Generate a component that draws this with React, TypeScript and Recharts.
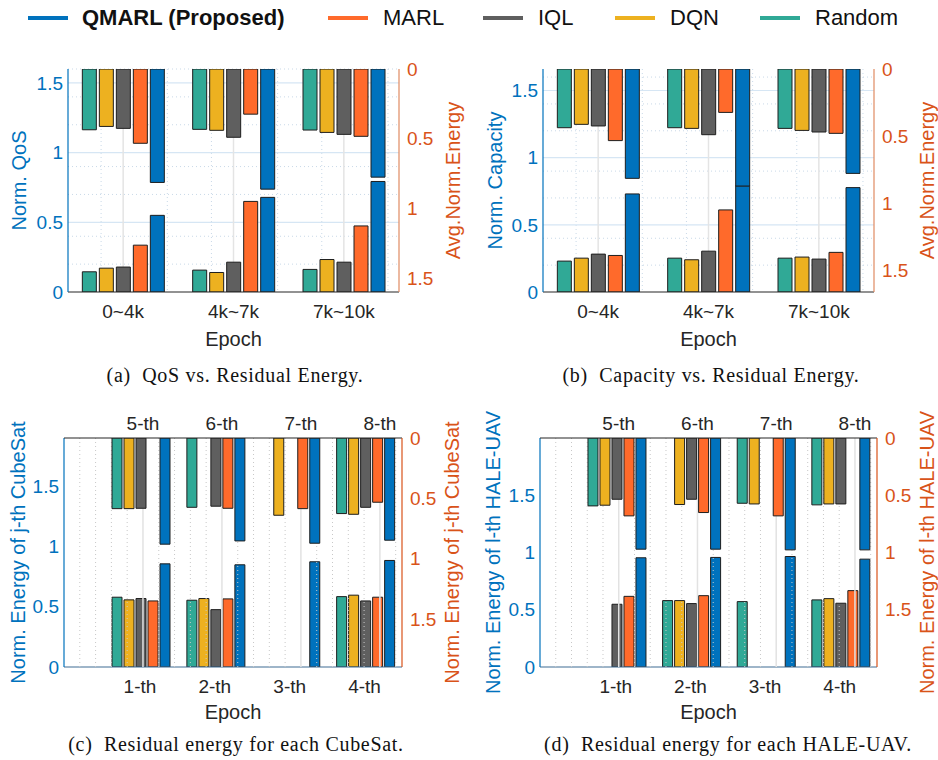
import React from "react";
import { Bar, BarChart, CartesianGrid, XAxis, YAxis } from "recharts";

const BLUE = "#0072BD";
const ORANGE_AXIS = "#D95319";
const INK = "#262626";
const SANS = "'Liberation Sans', Arial, Helvetica, sans-serif";
const SERIF = "'Liberation Serif', 'Times New Roman', serif";

// series in drawing order inside each group
const SERIES = [
  { key: "random", name: "Random", color: "#30A996" },
  { key: "dqn", name: "DQN", color: "#EDB120" },
  { key: "iql", name: "IQL", color: "#5F5F5F" },
  { key: "marl", name: "MARL", color: "#FF6A2B" },
  { key: "qmarl", name: "QMARL (Proposed)", color: "#0072BD" },
];
const LEGEND_ORDER = ["qmarl", "marl", "iql", "dqn", "random"];

// (a) QoS vs residual energy
const EPOCHS = ["0~4k", "4k~7k", "7k~10k"];
const A_QOS_RANDOM = [0.145, 0.157, 0.162];
const A_QOS_DQN = [0.171, 0.14, 0.233];
const A_QOS_IQL = [0.179, 0.214, 0.214];
const A_QOS_MARL = [0.336, 0.65, 0.474];
const A_QOS_QMARL = [0.55, 0.679, 0.793];
const A_EN_RANDOM = [0.436, 0.433, 0.438];
const A_EN_DQN = [0.412, 0.44, 0.455];
const A_EN_IQL = [0.426, 0.49, 0.469];
const A_EN_MARL = [0.533, 0.324, 0.483];
const A_EN_QMARL = [0.814, 0.862, 0.776];

// (b) capacity vs residual energy
const B_CAP_RANDOM = [0.23, 0.252, 0.252];
const B_CAP_DQN = [0.252, 0.24, 0.26];
const B_CAP_IQL = [0.282, 0.304, 0.245];
const B_CAP_MARL = [0.272, 0.611, 0.295];
const B_CAP_QMARL = [0.73, 0.79, 0.777];
const B_EN_RANDOM = [0.437, 0.437, 0.442];
const B_EN_DQN = [0.412, 0.442, 0.457];
const B_EN_IQL = [0.424, 0.489, 0.469];
const B_EN_MARL = [0.533, 0.323, 0.479];
const B_EN_QMARL = [0.814, 0.871, 0.777];

// (c) CubeSats: 1..4 on the left axis, 5..8 on the right axis
const LOWER_NODES = ["1-th", "2-th", "3-th", "4-th"];
const UPPER_NODES = ["5-th", "6-th", "7-th", "8-th"];
const C_LO_RANDOM = [0.579, 0.554, 0, 0.584];
const C_LO_DQN = [0.557, 0.568, 0, 0.596];
const C_LO_IQL = [0.568, 0.476, 0, 0.548];
const C_LO_MARL = [0.548, 0.565, 0, 0.579];
const C_LO_QMARL = [0.856, 0.848, 0.873, 0.884];
const C_UP_RANDOM = [0.586, 0.575, 0, 0.627];
const C_UP_DQN = [0.586, 0, 0.641, 0.633];
const C_UP_IQL = [0.583, 0.566, 0, 0.575];
const C_UP_MARL = [0, 0.583, 0.586, 0.533];
const C_UP_QMARL = [0.881, 0.854, 0.873, 0.848];

// (d) HALE-UAVs
const D_LO_RANDOM = [0, 0.58, 0.571, 0.586];
const D_LO_DQN = [0, 0.58, 0, 0.597];
const D_LO_IQL = [0.548, 0.554, 0, 0.557];
const D_LO_MARL = [0.617, 0.623, 0, 0.667];
const D_LO_QMARL = [0.954, 0.957, 0.965, 0.942];
const D_UP_RANDOM = [0.593, 0, 0.57, 0.584];
const D_UP_DQN = [0.587, 0.581, 0.576, 0.576];
const D_UP_IQL = [0.535, 0.535, 0, 0.576];
const D_UP_MARL = [0.68, 0.651, 0.68, 0];
const D_UP_QMARL = [0.971, 0.971, 0.977, 0.977];

const Y_TICKS = [0, 0.5, 1, 1.5];

type Rect = { l: number; t: number; r: number; b: number };
type Box = { x: number; y: number; w: number; h: number };

type PanelProps = {
  box: Box;
  plot: Rect;
  cats: string[];
  upperCats?: string[];
  lower: number[][];
  upper: number[][];
  max: number;
  leftLabel: string;
  rightLabel: string;
  leftLabelX: number;
  rightLabelX: number;
  nodeStyle: boolean;
};

const LW = 60;
const RW = 60;
const XH = 30;

function steps(from: number, to: number, step: number, skip: number) {
  const out: number[] = [];
  for (let v = from; v <= to + 1e-9; v += step) {
    const r = Math.round(v * 100) / 100;
    if (Math.abs(r / skip - Math.round(r / skip)) > 1e-6) out.push(r);
  }
  return out;
}

function Panel(p: PanelProps) {
  const { box, plot } = p;
  const rows = p.cats.map((c, i) => {
    const row: Record<string, string | number> = { cat: c, slot: i, slot1: i + 1 };
    SERIES.forEach((s, k) => {
      row[s.key] = p.lower[k][i];
      row[s.key + "_e"] = p.upper[k][i];
    });
    return row;
  });

  const tickFont = { fontSize: 19, fontFamily: SANS };
  const catPad = p.nodeStyle ? { left: 38.5, right: 0 } : { left: 0, right: 0 };
  const topMax = 4.28;
  const topH = p.nodeStyle ? 30 : 0;

  const lowerMargin = {
    top: plot.t - box.y,
    bottom: box.y + box.h - plot.b - XH,
    left: plot.l - box.x - LW,
    right: box.x + box.w - plot.r,
  };
  const upperMargin = {
    top: plot.t - box.y - topH,
    bottom: box.y + box.h - plot.b,
    left: plot.l - box.x,
    right: box.x + box.w - plot.r - RW,
  };
  const gap = p.nodeStyle ? 2 : 3;
  const catGap = p.nodeStyle ? "12.7%" : "13%";

  return (
    <div style={{ position: "absolute", left: box.x, top: box.y, width: box.w, height: box.h }}>
      <div style={{ position: "absolute", left: 0, top: 0 }}>
        <BarChart width={box.w} height={box.h} data={rows} margin={lowerMargin} barGap={gap} barCategoryGap={catGap}>
          {!p.nodeStyle && (
            <>
              <CartesianGrid
                xAxisId="n"
                yAxisId="l"
                verticalValues={steps(-0.4, 2.4, 0.2, 1)}
                horizontalValues={steps(0.1, p.max, 0.1, 0.5)}
                stroke="#c9d9e8"
                strokeDasharray="1 3"
              />
              <CartesianGrid xAxisId="n" yAxisId="l" vertical={false} horizontalValues={[0.5, 1, 1.5]} stroke="#d6e6f4" strokeWidth={1.2} />
              <CartesianGrid xAxisId="n" yAxisId="l" horizontal={false} verticalValues={[0, 1, 2]} stroke="#e4e4e4" strokeWidth={1.5} />
            </>
          )}
          <XAxis
            dataKey="cat"
            padding={catPad}
            height={XH}
            axisLine={{ stroke: p.nodeStyle ? "#3f6c93" : INK, strokeWidth: 1.2 }}
            tickLine={false}
            tickSize={0}
            tickMargin={13}
            tick={{ ...tickFont, fill: INK }}
            label={{ value: "Epoch", position: "bottom", offset: p.nodeStyle ? 8 : 10, fill: INK, fontSize: 20, fontFamily: SANS }}
          />
          <XAxis xAxisId="n" dataKey="slot" type="number" domain={[-0.5, 2.5]} allowDataOverflow hide />
          <YAxis
            yAxisId="l"
            domain={[0, p.max]}
            ticks={Y_TICKS}
            allowDataOverflow
            width={LW}
            axisLine={{ stroke: BLUE, strokeWidth: 1.2 }}
            tickLine={false}
            tickSize={0}
            tickMargin={5}
            tick={{ ...tickFont, fill: BLUE }}
            label={{
              value: p.leftLabel,
              angle: -90,
              position: "insideLeft",
              offset: p.leftLabelX - plot.l + LW,
              fill: BLUE,
              fontSize: 20,
              fontFamily: SANS,
              style: { textAnchor: "middle" },
            }}
          />
          {SERIES.map((s) => (
            <Bar key={s.key} yAxisId="l" dataKey={s.key} fill={s.color} stroke="#1e1e1e" strokeWidth={1} isAnimationActive={false} />
          ))}
        </BarChart>
      </div>
      <div style={{ position: "absolute", left: 0, top: 0 }}>
        <BarChart width={box.w} height={box.h} data={rows} margin={upperMargin} barGap={gap} barCategoryGap={catGap}>
          {p.nodeStyle && (
            <>
              <CartesianGrid xAxisId="t" yAxisId="r" horizontal={false} verticalValues={steps(0.2, topMax, 0.2, 1)} stroke="#c8c8c8" strokeDasharray="1 3" />
              <CartesianGrid xAxisId="t" yAxisId="r" horizontal={false} verticalValues={[1, 2, 3, 4]} stroke="#e2e2e2" strokeWidth={1.5} />
            </>
          )}
          {p.nodeStyle ? (
            <>
              <XAxis dataKey="cat" padding={catPad} hide />
              <XAxis
                xAxisId="t"
                dataKey="slot1"
                type="number"
                orientation="top"
                domain={[0, topMax]}
                ticks={[1, 2, 3, 4]}
                tickFormatter={(v: number) => (p.upperCats ? p.upperCats[v - 1] : "")}
                allowDataOverflow
                height={topH}
                axisLine={{ stroke: INK, strokeWidth: 1.2 }}
                tickLine={false}
                tickSize={0}
                tickMargin={8}
                tick={{ ...tickFont, fill: INK }}
              />
            </>
          ) : (
            <XAxis dataKey="cat" orientation="top" height={0} tick={false} tickLine={false} axisLine={{ stroke: "#9a5a3a", strokeWidth: 1.2 }} />
          )}
          <YAxis
            yAxisId="r"
            orientation="right"
            reversed
            domain={[0, p.max]}
            ticks={Y_TICKS}
            allowDataOverflow
            width={RW}
            axisLine={{ stroke: p.nodeStyle ? ORANGE_AXIS : "#e08a62", strokeWidth: 1.2 }}
            tickLine={false}
            tickSize={0}
            tickMargin={8}
            tick={{ ...tickFont, fill: ORANGE_AXIS, textAnchor: "start" }}
            label={{
              value: p.rightLabel,
              angle: -90,
              position: "insideRight",
              offset: plot.r + RW - p.rightLabelX,
              fill: ORANGE_AXIS,
              fontSize: 20,
              fontFamily: SANS,
              style: { textAnchor: "middle" },
            }}
          />
          {SERIES.map((s) => (
            <Bar key={s.key} yAxisId="r" dataKey={s.key + "_e"} fill={s.color} stroke="#1e1e1e" strokeWidth={1} isAnimationActive={false} />
          ))}
        </BarChart>
      </div>
    </div>
  );
}

function Legend() {
  const lefts = [28, 328, 483, 615, 760];
  return (
    <>
      {LEGEND_ORDER.map((k, i) => {
        const s = SERIES.find((x) => x.key === k)!;
        const bold = k === "qmarl";
        return (
          <div key={k} style={{ position: "absolute", left: lefts[i], top: 6, height: 24, display: "flex", alignItems: "center", fontFamily: SANS }}>
            <div style={{ width: 40, height: 4, background: s.color, marginRight: bold ? 14 : 15 }} />
            <span style={{ fontSize: bold ? 22 : 22, fontWeight: bold ? 700 : 400, color: "#111", whiteSpace: "nowrap" }}>{s.name}</span>
          </div>
        );
      })}
    </>
  );
}

function Caption({ cx, y, text }: { cx: number; y: number; text: string }) {
  return (
    <div
      style={{
        position: "absolute",
        left: cx - 250,
        width: 500,
        textAlign: "center",
        top: y - 12,
        fontFamily: SERIF,
        fontSize: 20,
        letterSpacing: 0.7,
        color: "#111",
        whiteSpace: "pre",
      }}
    >
      {text}
    </div>
  );
}

export default function App() {
  return (
    <div style={{ position: "absolute", left: 0, top: 0, width: 938, height: 760, background: "#fff", overflow: "hidden" }}>
      <Legend />
      <Panel
        box={{ x: 0, y: 40, w: 469, h: 330 }}
        plot={{ l: 68, t: 69, r: 399, b: 292 }}
        cats={EPOCHS}
        lower={[A_QOS_RANDOM, A_QOS_DQN, A_QOS_IQL, A_QOS_MARL, A_QOS_QMARL]}
        upper={[A_EN_RANDOM, A_EN_DQN, A_EN_IQL, A_EN_MARL, A_EN_QMARL]}
        max={1.6}
        leftLabel="Norm. QoS"
        rightLabel="Avg.Norm.Energy"
        leftLabelX={18.5}
        rightLabelX={453}
        nodeStyle={false}
      />
      <Panel
        box={{ x: 469, y: 40, w: 469, h: 330 }}
        plot={{ l: 543, t: 69, r: 874, b: 292 }}
        cats={EPOCHS}
        lower={[B_CAP_RANDOM, B_CAP_DQN, B_CAP_IQL, B_CAP_MARL, B_CAP_QMARL]}
        upper={[B_EN_RANDOM, B_EN_DQN, B_EN_IQL, B_EN_MARL, B_EN_QMARL]}
        max={1.66}
        leftLabel="Norm. Capacity"
        rightLabel="Avg.Norm.Energy"
        leftLabelX={495}
        rightLabelX={927}
        nodeStyle={false}
      />
      <Panel
        box={{ x: 0, y: 390, w: 469, h: 340 }}
        plot={{ l: 64, t: 438, r: 402, b: 667 }}
        cats={LOWER_NODES}
        upperCats={UPPER_NODES}
        lower={[C_LO_RANDOM, C_LO_DQN, C_LO_IQL, C_LO_MARL, C_LO_QMARL]}
        upper={[C_UP_RANDOM, C_UP_DQN, C_UP_IQL, C_UP_MARL, C_UP_QMARL]}
        max={1.9}
        leftLabel="Norm. Energy of j-th CubeSat"
        rightLabel="Norm. Energy of j-th CubeSat"
        leftLabelX={18}
        rightLabelX={452}
        nodeStyle
      />
      <Panel
        box={{ x: 469, y: 390, w: 469, h: 340 }}
        plot={{ l: 540, t: 438, r: 877, b: 667 }}
        cats={LOWER_NODES}
        upperCats={UPPER_NODES}
        lower={[D_LO_RANDOM, D_LO_DQN, D_LO_IQL, D_LO_MARL, D_LO_QMARL]}
        upper={[D_UP_RANDOM, D_UP_DQN, D_UP_IQL, D_UP_MARL, D_UP_QMARL]}
        max={2}
        leftLabel="Norm. Energy of l-th HALE-UAV"
        rightLabel="Norm. Energy of l-th HALE-UAV"
        leftLabelX={493}
        rightLabelX={927}
        nodeStyle
      />
      <Caption cx={235} y={376} text="(a)  QoS vs. Residual Energy." />
      <Caption cx={711} y={376} text="(b)  Capacity vs. Residual Energy." />
      <Caption cx={236} y={745} text="(c)  Residual energy for each CubeSat." />
      <Caption cx={728} y={745} text="(d)  Residual energy for each HALE-UAV." />
    </div>
  );
}
